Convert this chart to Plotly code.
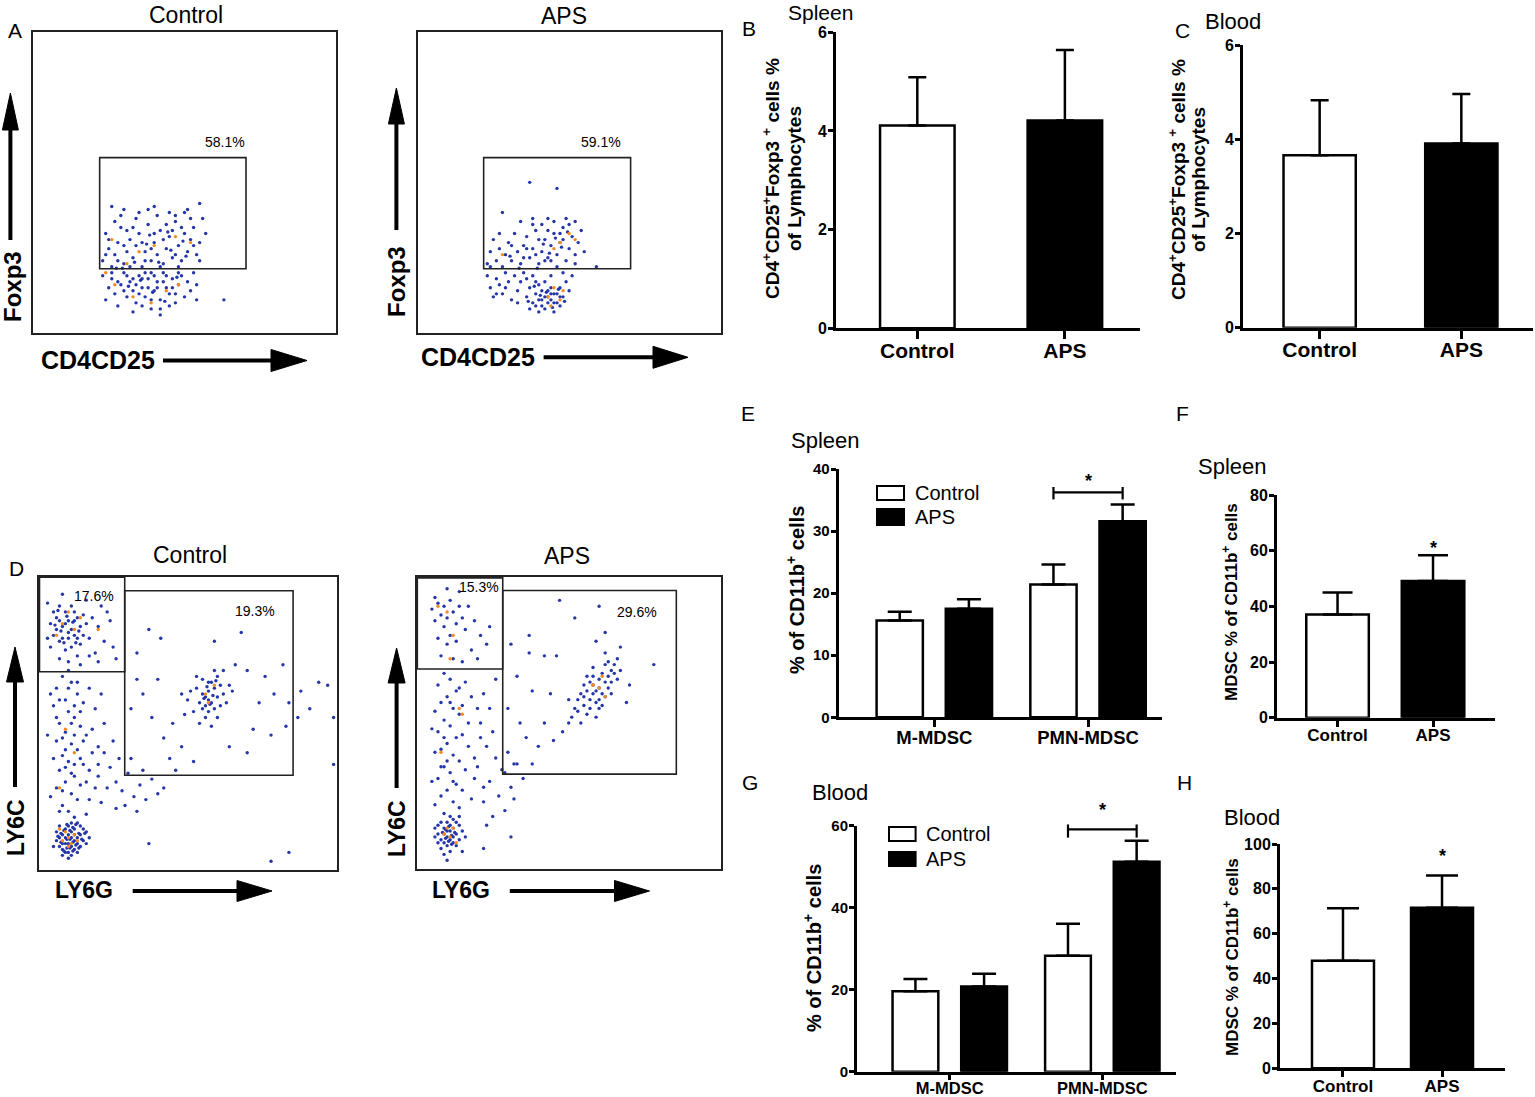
import plotly.graph_objects as go

W, H = 1535, 1097
def PX(px): return px / W
def PY(py): return 1 - py / H

FONT = "Liberation Sans, Arial, sans-serif"

# ================= DATA =================
# Panel B / C : Treg % of lymphocytes (mean, error)
treg_groups = ["Control", "APS"]
spleen_treg_mean = [4.11, 4.21]
spleen_treg_err = [0.98, 1.43]
blood_treg_mean = [3.66, 3.91]
blood_treg_err = [1.17, 1.05]

# Panel E / G : MDSC subsets % of CD11b+ cells
mdsc_subsets = ["M-MDSC", "PMN-MDSC"]
spleen_subset_ctrl = [15.6, 21.4]
spleen_subset_ctrl_err = [1.4, 3.2]
spleen_subset_aps = [17.5, 31.6]
spleen_subset_aps_err = [1.5, 2.7]
blood_subset_ctrl = [19.6, 28.3]
blood_subset_ctrl_err = [3.0, 7.8]
blood_subset_aps = [20.8, 51.2]
blood_subset_aps_err = [3.1, 5.1]

# Panel F / H : total MDSC % of CD11b+ cells
spleen_mdsc_mean = [37.1, 49.1]
spleen_mdsc_err = [7.9, 9.3]
blood_mdsc_mean = [48.0, 71.6]
blood_mdsc_err = [23.3, 14.4]

# Gate percentages
a_ctrl_pct = "58.1%"
a_aps_pct = "59.1%"
d_ctrl_pcts = ["17.6%", "19.3%"]
d_aps_pcts = ["15.3%", "29.6%"]

# Flow events (channel units 0-100)
a_ctrl_events = [
    (23,24),(25,28),(24,33),(26,22),(27,26),(28,30),(29,35),(30,23),(31,27),(32,31),(33,25),(34,29),
    (35,33),(36,22),(37,27),(38,36),(39,24),(40,30),(41,26),(42,34),(43,23),(44,28),(45,32),(46,25),
    (47,37),(48,29),(49,24),(50,33),(51,27),(52,31),(53,35),(54,26),(55,30),(56,38),(29,39),(34,38),
    (41,39),(45,40),(50,40),(38,41),(27,37),(31,34),(36,30),(44,36),(49,35),(53,29),(25,31),(33,35),
    (40,33),(47,26),(52,38),(43,31),(37,24),(30,29),(24,26),(35,40),(42,22),(48,22),(55,24),(57,33),
    (26,42),(30,41),(40,42),(55,43),(47,39),(51,41),(46,34),(39,28),(32,22),(28,24),
    (23,19),(25,15),(24,11),(26,18),(27,13),(28,9),(29,16),(30,20),(31,12),(32,17),(33,14),(34,10),
    (35,19),(36,15),(37,12),(38,18),(39,8),(40,14),(41,17),(42,11),(43,20),(44,15),(45,9),(46,18),
    (47,13),(48,16),(49,19),(50,12),(51,17),(52,14),(53,20),(54,16),(26,20),(28,17),(31,19),(34,16),
    (37,20),(40,19),(43,17),(45,13),(39,11),(36,9),(33,7),(42,8),(47,10),(30,14),(35,13),(41,15),
    (44,19),(48,20),(63,11),(54,11),(42,6),(38,15),(36,18),(33,18),(46,15),(39,20),
    (29.5,21.5),(33.5,23.5),(37.5,29.5),(41.5,23.5),(45.5,27.5),(49.5,30.5),(35.5,17.5),(39.5,13.5),
    (43.5,10.5),(31.5,15.5),(27.5,21.5),(47.5,18.5),(44.5,33.5),(38.5,32.5),(50.5,25.5),
]
a_ctrl_events_hi = [(24,20),(27,16),(31,23),(35,27),(40,29),(47,32),(44,14),(48,16),(33,12),(39,10),(26,31),(52,30)]

a_aps_events = [
    (23,23),(24,27),(25,31),(26,24),(27,28),(28,22),(29,26),(30,30),(31,24),(32,33),(33,27),(34,23),
    (35,29),(36,32),(37,25),(38,28),(39,34),(40,23),(41,27),(42,31),(43,25),(44,29),(45,33),(46,26),
    (47,30),(48,35),(49,24),(50,28),(51,32),(52,26),(53,30),(54,34),(55,27),(40,31),(43,34),(46,22),
    (48,31),(50,36),(45,37),(38,36),(35,25),(31,29),(27,33),(24,22),(42,24),(52,23),(47,33),(44,24),
    (39,26),(36,28),(37,50),(46,48),(28,40),(38,38),(43,38),(34,37),(52,37),(59,22),(41,36),(49,38),
    (23,19),(24,15),(25,12),(26,18),(27,16),(28,13),(29,20),(30,17),(31,11),(32,19),(33,14),(34,17),
    (35,20),(36,12),(37,15),(38,10),(39,13),(40,16),(41,9),(42,12),(43,14),(44,11),(45,13),(46,10),
    (47,15),(48,12),(49,17),(50,14),(51,19),(38,19),(40,11),(42,8),(44,15),(46,13),(41,14),(43,10),
    (39,17),(45,7),(47,9),(36,18),(26,13),(29,15),(33,10),(40,7),(44,19),(48,20),(37,8),(42,17),
    (45,10),(43,12),(41,11),(39,9),(47,12),(44,13),
    (41.5,29.5),(45.5,31.5),(49.5,33.5),(43.5,26.5),(47.5,28.5),(39.5,21.5),(33.5,21.5),(30.5,25.5),
    (42.5,13.5),(44.5,8.5),(46.5,14.5),(40.5,12.5),(38.5,15.5),(48.5,10.5),(36.5,10.5),
]
a_aps_events_hi = [(47,30),(50,33),(45,28),(43,12),(47,11),(48,14),(45,15),(28,26),(52,31),(44,9)]

d_ctrl_events = [
    (4,84),(5,80),(6,86),(7,78),(8,83),(9,88),(10,81),(11,76),(12,85),(13,79),(14,83),(15,87),(6,82),
    (8,79),(10,85),(12,80),(14,77),(16,84),(5,88),(9,75),(11,90),(13,73),(7,72),(15,80),(17,79),(18,86),
    (20,83),(22,78),(24,85),(19,74),(21,90),(25,76),(3,91),(8,94),(16,92),(23,88),(26,72),(10,71),(4,76),
    (12,88),(7,90),(17,73),(14,70),(3,79),(20,71),(9,84),(11,82),(13,86),(7,85),(10,79),
    (5.5,83.5),(7.5,81.5),(9.5,86.5),(11.5,84.5),(13.5,81.5),(8.5,77.5),(12.5,77.5),(6.5,88.5),
    (8,66),(11,64),(6,62),(13,60),(9,58),(15,57),(5,56),(10,54),(12,52),(7,50),(14,49),(9,47),(16,46),
    (6,44),(11,43),(13,41),(8,39),(10,37),(15,36),(7,34),(12,32),(9,30),(14,29),(6,28),(11,26),(13,24),
    (8,22),(10,20),(16,19),(12,18),(4,60),(17,62),(19,55),(18,48),(20,42),(5,38),(17,34),(19,28),(4,25),
    (21,23),(7,58),(12,46),(9,41),(14,38),(11,33),(8,27),(13,64),(10,68),(6,52),(15,44),(18,40),(16,30),
    (20,36),(3,46),(22,50),(21,60),(12,56),(9,35),(7,20),(17,24),(10,62),(8,45),(12,36),(11,50),(14,54),
    (22,40),(24,35),(26,30),(28,27),(30,33),(32,25),(25,44),(27,38),(29,22),(34,29),(36,24),(23,28),
    (31,38),(38,31),(40,26),(33,20),(20,32),(35,34),(26,21),(42,28),
    (6,10),(7,8),(8,12),(9,6),(10,9),(11,13),(12,7),(13,11),(14,8),(15,14),(7,15),(9,14),(11,5),(13,16),
    (8,5),(10,12),(12,10),(14,12),(6,13),(16,9),(9,9),(11,8),(8,9),(12,14),(10,6),(13,6),(7,11),(15,10),
    (10,15),(11,11),(9,11),(12,12),(8,7),(14,15),(16,13),(5,8),(10,4),(13,9),(11,16),(17,11),
    (6.5,11.5),(7.5,9.5),(8.5,13.5),(9.5,7.5),(10.5,10.5),(11.5,14.5),(12.5,8.5),(13.5,12.5),(14.5,10.5),
    (8.5,6.5),(9.5,15.5),(11.5,6.5),(12.5,15.5),(10.5,13.5),(7.5,12.5),(13.5,7.5),(15.5,12.5),(9.5,10.5),
    (11.5,9.5),(10.5,7.5),
    (55,60),(57,58),(59,62),(56,56),(58,64),(60,59),(54,57),(57,61),(59,55),(61,63),(53,62),(56,52),
    (58,57),(62,60),(55,65),(60,66),(52,54),(57,54),(63,57),(54,50),(59,68),(50,58),(58,49),(64,63),
    (51,61),(56,59),(61,56),(53,66),(49,53),(62,68),(57,64),(55,55),(60,52),(48,60),(65,61),
    (56.5,62.5),(58.5,59.5),(57.5,56.5),(55.5,58.5),(59.5,64.5),
    (33,74),(37,82),(41,79),(59,78),(68,81),(66,70),(70,68),(76,66),(82,70),(79,60),(84,57),(74,57),
    (72,48),(78,46),(83,49),(87,52),(45,50),(42,45),(38,52),(44,38),(48,42),(52,37),(46,34),(35,60),
    (40,65),(31,55),(88,61),(94,64),(97,63),(91,55),(99,52),(99,36),(37,9),(84,6),(78,3),(33,65),
    (64,42),(70,40),
]
d_ctrl_events_hi = [(8,84),(10,88),(6,80),(12,82),(14,86),(20,82),(9,48),(12,40),(7,28),(8,10),(10,8),
                    (12,12),(9,13),(11,9),(7,14),(13,10),(10,11),(56,60),(59,63),(57,57)]

d_aps_events = [
    (5,89),(7,91),(8,87),(9,90),(10,86),(11,92),(12,88),(13,84),(14,90),(6,85),(9,83),(11,80),(13,78),
    (15,86),(16,82),(7,79),(10,77),(17,90),(19,85),(21,80),(23,77),(18,75),(8,73),(12,72),(15,71),(20,72),
    (6,93),(14,95),(24,83),(10,96),
    (9,67),(11,65),(7,63),(13,61),(10,59),(8,57),(12,55),(14,53),(9,51),(11,49),(7,47),(13,45),(10,43),
    (8,41),(12,39),(14,37),(9,35),(11,33),(7,31),(13,29),(10,27),(8,25),(12,23),(14,21),(9,19),(16,64),
    (18,59),(6,54),(17,50),(15,46),(6,40),(17,42),(16,34),(5,30),(15,27),(19,31),(18,24),(6,22),(11,57),
    (9,45),(12,30),(10,37),(14,62),(20,55),(21,45),(19,38),(22,28),(5,48),(15,56),(8,35),
    (7,12),(8,10),(9,14),(10,11),(11,13),(12,9),(13,12),(14,15),(8,16),(10,8),(12,14),(9,12),(11,10),
    (13,16),(6,14),(10,13),(11,6),(12,11),(9,9),(14,10),(7,15),(10,16),(13,8),(15,13),(8,7),(11,15),
    (12,17),(9,5),(16,11),(10,3),(7,9),(11,18),(14,18),(15,6),(6,11),
    (8.5,12.5),(9.5,10.5),(10.5,14.5),(11.5,11.5),(12.5,12.5),(10.5,9.5),(9.5,13.5),(11.5,8.5),
    (22,60),(24,55),(21,50),(25,47),(23,42),(26,38),(20,35),(24,30),(27,25),(22,23),(29,20),(26,65),
    (31,28),(28,34),(30,40),(33,36),(35,31),(32,24),(25,18),(23,15),
    (60,62),(58,60),(62,64),(57,58),(61,60),(63,66),(59,57),(64,68),(56,61),(60,65),(62,59),(55,56),
    (58,63),(65,70),(53,58),(57,55),(61,67),(63,62),(52,55),(59,61),(66,72),(54,60),(60,55),(64,64),
    (56,53),(58,66),(62,70),(51,52),(55,63),(65,67),(61,56),(53,54),(57,64),(63,71),(60,58),(50,58),
    (59,52),(66,65),(62,74),(54,50),(56,66),(64,60),(58,69),(67,68),(55,59),
    (47,92),(60,90),(52,86),(62,81),(59,78),(67,76),(78,70),(69,57),(37,80),(31,77),(37,74),(42,73),
    (46,73),(33,66),(38,61),(44,60),(42,50),(50,50),(31,11),(22,7),(36,45),(40,42),(34,50),(30,55),
    (45,44),(48,47),(32,36),(29,33),(38,36),(70,63),
]
d_aps_events_hi = [(7,90),(10,88),(12,80),(11,72),(14,55),(8,40),(15,53),(9,12),(11,11),(12,14),(10,14),
                   (13,9),(60,62),(58,63),(62,59),(61,66)]

# ================= LAYOUT HELPERS =================
BLUE = "#2536a8"
ORANGE = "#f58a1f"

fig = go.Figure()
layout = dict(width=W, height=H, margin=dict(l=0, r=0, t=0, b=0, pad=0, autoexpand=False),
              paper_bgcolor="white", plot_bgcolor="rgba(0,0,0,0)", showlegend=False,
              barmode="overlay", autosize=False)
shapes = []
annotations = []

def axkey(i, letter):
    return f"{letter}axis" if i == 1 else f"{letter}axis{i}"

def ref(i, letter):
    return letter if i == 1 else f"{letter}{i}"

def text(px, py, s, size, bold=False, angle=0, xanchor="center", yanchor="middle", color="black"):
    annotations.append(dict(x=PX(px), y=PY(py), xref="paper", yref="paper", text=s, showarrow=False,
                            textangle=angle, xanchor=xanchor, yanchor=yanchor,
                            font=dict(family=FONT, size=size, color=color,
                                      weight="bold" if bold else "normal")))

def arrow(x0, y0, x1, y1, head_len, head_w, lw=4):
    # pixel coords: tail (x0,y0) -> tip (x1,y1)
    dx, dy = x1 - x0, y1 - y0
    L = (dx * dx + dy * dy) ** 0.5
    ux, uy = dx / L, dy / L
    bx, by = x1 - ux * head_len, y1 - uy * head_len
    shapes.append(dict(type="line", xref="paper", yref="paper", x0=PX(x0), y0=PY(y0),
                       x1=PX(bx + ux * 2), y1=PY(by + uy * 2), line=dict(color="black", width=lw)))
    nx, ny = -uy, ux
    p1 = (bx + nx * head_w / 2, by + ny * head_w / 2)
    p2 = (bx - nx * head_w / 2, by - ny * head_w / 2)
    path = (f"M {PX(x1)} {PY(y1)} L {PX(p1[0])} {PY(p1[1])} L {PX(p2[0])} {PY(p2[1])} Z")
    shapes.append(dict(type="path", xref="paper", yref="paper", path=path,
                       fillcolor="black", line=dict(color="black", width=1)))

# ================= FLOW PLOTS =================
flow_boxes = {
    1: (33, 31.7, 336, 333),
    2: (417.6, 31.7, 720.6, 333),
    3: (38.6, 576.7, 336.6, 870),
    4: (416.7, 577, 720.7, 869),
}
flow_data = {1: (a_ctrl_events, a_ctrl_events_hi), 2: (a_aps_events, a_aps_events_hi),
             3: (d_ctrl_events, d_ctrl_events_hi), 4: (d_aps_events, d_aps_events_hi)}
flow_gates = {
    1: [(22.0, 21.3, 70.3, 58.2)],
    2: [(21.8, 21.3, 70.3, 58.2)],
    3: [(0.3, 67.6, 28.9, 99.8), (28.9, 32.3, 85.4, 95.2)],
    4: [(0.2, 68.5, 28.3, 99.7), (28.3, 32.5, 85.4, 95.4)],
}
flow_labels = {
    1: [(63.4, 63.5, a_ctrl_pct)],
    2: [(60.4, 63.3, a_aps_pct)],
    3: [(18.5, 93.5, d_ctrl_pcts[0]), (72.5, 88.3, d_ctrl_pcts[1])],
    4: [(20.5, 96.5, d_aps_pcts[0]), (72.6, 88.1, d_aps_pcts[1])],
}

for i, (l, t, r, b) in flow_boxes.items():
    ev, hi = flow_data[i]
    for pts, col in ((ev, BLUE), (hi, ORANGE)):
        fig.add_trace(go.Scatter(x=[p[0] for p in pts], y=[p[1] for p in pts], mode="markers",
                                 marker=dict(size=3.4, color=col, line=dict(width=0)),
                                 xaxis=ref(i, "x"), yaxis=ref(i, "y"), hoverinfo="skip"))
    common = dict(range=[0, 100], showline=True, mirror=True, linecolor="#222", linewidth=2,
                  showgrid=False, zeroline=False, showticklabels=False, ticks="", fixedrange=True,
                  automargin=False)
    layout[axkey(i, "x")] = dict(domain=[PX(l), PX(r)], anchor=ref(i, "y"), **common)
    layout[axkey(i, "y")] = dict(domain=[PY(b), PY(t)], anchor=ref(i, "x"), **common)
    for (gx0, gy0, gx1, gy1) in flow_gates[i]:
        shapes.append(dict(type="rect", xref=ref(i, "x"), yref=ref(i, "y"), x0=gx0, y0=gy0, x1=gx1, y1=gy1,
                           line=dict(color="#222", width=1.6), fillcolor="rgba(0,0,0,0)"))
    for (lx, ly, s) in flow_labels[i]:
        annotations.append(dict(x=lx, y=ly, xref=ref(i, "x"), yref=ref(i, "y"), text=s, showarrow=False,
                                font=dict(family=FONT, size=14, color="black")))

# flow titles and axis labels
text(186, 15, "Control", 23)
text(564, 16, "APS", 23)
text(190, 555, "Control", 23)
text(567, 556, "APS", 23)

text(12, 287, "Foxp3", 24, bold=True, angle=-90)
text(397, 282, "Foxp3", 24, bold=True, angle=-90)
text(98, 360, "CD4CD25", 25, bold=True)
text(478, 357, "CD4CD25", 25, bold=True)
arrow(10.4, 240, 10.4, 93, 37, 16)
arrow(396.4, 230, 396.4, 88, 36, 16)
arrow(163, 360.5, 307, 360.5, 36, 22)
arrow(543.6, 357.3, 688, 357.3, 35, 22)

text(16, 828, "LY6C", 23, bold=True, angle=-90)
text(397, 829, "LY6C", 23, bold=True, angle=-90)
text(84, 890, "LY6G", 23, bold=True)
text(461, 890, "LY6G", 23, bold=True)
arrow(15, 787, 15, 647, 35, 17)
arrow(396.6, 788, 396.6, 648, 35, 17)
arrow(132.7, 891, 272, 891, 35, 21)
arrow(509.8, 891, 649.5, 891, 35, 21)

# ================= BAR CHARTS =================
bar_boxes = {}

def bar_axes(i, box, xr, cats, yr, dtick, xfont, yfont, xticklen, xstand):
    l, t, r, b = box
    bar_boxes[i] = (box, yr)
    layout[axkey(i, "x")] = dict(domain=[PX(l), PX(r)], anchor=ref(i, "y"), range=xr,
                                 tickvals=list(range(len(cats))), ticktext=cats, showline=True,
                                 linecolor="black", linewidth=3, ticks="outside", ticklen=xticklen,
                                 tickwidth=2.5, tickcolor="black", showgrid=False, zeroline=False,
                                 fixedrange=True, automargin=False, ticklabelstandoff=xstand,
                                 tickfont=dict(family=FONT, size=xfont, color="black", weight="bold"))
    layout[axkey(i, "y")] = dict(domain=[PY(b), PY(t)], anchor=ref(i, "x"), range=yr, dtick=dtick,
                                 tick0=0, showline=True, linecolor="black", linewidth=3, ticks="outside",
                                 ticklen=5, tickwidth=2.5, tickcolor="black", showgrid=False,
                                 zeroline=False, fixedrange=True, automargin=False, ticklabelstandoff=-2,
                                 tickfont=dict(family=FONT, size=yfont, color="black", weight="bold"))

def bars(i, xs, ys, errs, colors, width, capw):
    fig.add_trace(go.Bar(x=xs, y=ys, width=width,
                         marker=dict(color=colors, line=dict(color="black", width=2.5)),
                         error_y=dict(type="data", array=errs, arrayminus=[0] * len(errs), symmetric=False,
                                      color="black", thickness=2.5, width=capw),
                         xaxis=ref(i, "x"), yaxis=ref(i, "y"), hoverinfo="skip"))

def value_to_paper(i, v):
    (l, t, r, b), (y0, y1) = bar_boxes[i]
    return PY(b - (v - y0) / (y1 - y0) * (b - t))

# B
bar_axes(5, (836, 32.3, 1140, 328.3), [-0.551, 1.509], treg_groups, [0, 6], 2, 21, 16, 8, -7)
bars(5, [0, 1], spleen_treg_mean, spleen_treg_err, ["white", "black"], 0.505, 9)
# C
bar_axes(6, (1243, 45, 1532.6, 327.7), [-0.541, 1.503], treg_groups, [0, 6], 2, 21, 16, 8, -7)
bars(6, [0, 1], blood_treg_mean, blood_treg_err, ["white", "black"], 0.51, 9)

GROUP_OFF = 0.225
# E
bar_axes(7, (838.7, 469, 1162, 717.3), [-0.622, 1.481], mdsc_subsets, [0, 40], 10, 18.5, 15, 7, -6)
bars(7, [k - GROUP_OFF for k in range(2)], spleen_subset_ctrl, spleen_subset_ctrl_err, "white", 0.301, 12)
bars(7, [k + GROUP_OFF for k in range(2)], spleen_subset_aps, spleen_subset_aps_err, "black", 0.301, 12)
# F
bar_axes(8, (1277, 495, 1495, 717.7), [-0.634, 1.649], treg_groups, [0, 80], 20, 17, 16, 6, -6)
bars(8, [0, 1], spleen_mdsc_mean, spleen_mdsc_err, ["white", "black"], 0.655, 15)
# G
bar_axes(9, (857, 825.7, 1176, 1071.7), [-0.608, 1.483], mdsc_subsets, [0, 60], 20, 16.5, 15, 5, -6)
bars(9, [k - GROUP_OFF for k in range(2)], blood_subset_ctrl, blood_subset_ctrl_err, "white", 0.30, 12)
bars(9, [k + GROUP_OFF for k in range(2)], blood_subset_aps, blood_subset_aps_err, "black", 0.30, 12)
# H
bar_axes(10, (1280, 844, 1505, 1068.3), [-0.636, 1.636], treg_groups, [0, 100], 20, 17, 16, 6, -6)
bars(10, [0, 1], blood_mdsc_mean, blood_mdsc_err, ["white", "black"], 0.626, 16)

# significance marks
def star(i, x, v):
    annotations.append(dict(x=x, y=value_to_paper(i, v), xref=ref(i, "x"), yref="paper", text="*",
                            showarrow=False, font=dict(family=FONT, size=18, color="black", weight="bold")))

def bracket(i, v, tick_lo, tick_hi, star_v):
    x0, x1 = 1 - GROUP_OFF, 1 + GROUP_OFF
    for sh in ((x0, v, x1, v), (x0, tick_lo, x0, tick_hi), (x1, tick_lo, x1, tick_hi)):
        shapes.append(dict(type="line", xref=ref(i, "x"), yref="paper", x0=sh[0], y0=value_to_paper(i, sh[1]),
                           x1=sh[2], y1=value_to_paper(i, sh[3]), line=dict(color="black", width=2.2)))
    star(i, 1, star_v)

bracket(7, 36.25, 35.1, 37.1, 38.0)
bracket(9, 59.1, 57.1, 60.3, 60.9)
star(8, 1, 61.0)
star(10, 1, 89.5)

# legends for E and G
def legend_box(x0, y0, x1, y1, fill):
    shapes.append(dict(type="rect", xref="paper", yref="paper", x0=PX(x0), y0=PY(y1), x1=PX(x1), y1=PY(y0),
                       line=dict(color="black", width=2), fillcolor=fill))

legend_box(877, 486, 904, 500, "white")
legend_box(877, 509, 904, 525, "black")
text(913, 493, "Control", 20, xanchor="left")
text(913, 517, "APS", 20, xanchor="left")
legend_box(889, 827, 915.6, 841, "white")
legend_box(889, 852, 915.6, 866, "black")
text(924, 834, "Control", 20, xanchor="left")
text(924, 859, "APS", 20, xanchor="left")

# y-axis titles
text(771, 179, "CD4<sup>+</sup>CD25<sup>+</sup>Foxp3 <sup>+</sup> cells %", 19, bold=True, angle=-90)
text(794, 179, "of Lymphocytes", 19, bold=True, angle=-90)
text(1177, 180, "CD4<sup>+</sup>CD25<sup>+</sup>Foxp3 <sup>+</sup> cells %", 19, bold=True, angle=-90)
text(1199, 180, "of Lymphocytes", 19, bold=True, angle=-90)
text(795, 590, "% of CD11b<sup>+</sup> cells", 20, bold=True, angle=-90)
text(1230, 602, "MDSC % of CD11b<sup>+</sup> cells", 17, bold=True, angle=-90)
text(812, 948, "% of CD11b<sup>+</sup> cells", 20, bold=True, angle=-90)
text(1231, 957, "MDSC % of CD11b<sup>+</sup> cells", 17, bold=True, angle=-90)

# panel titles
text(820, 12, "Spleen", 21)
text(1233, 22, "Blood", 22)
text(825, 440, "Spleen", 22)
text(1232, 467, "Spleen", 22)
text(840, 792, "Blood", 22)
text(1252, 817, "Blood", 22)

# panel letters
for (lx, ly, s) in [(15, 31, "A"), (749, 29, "B"), (1182, 31, "C"), (16, 568, "D"),
                    (748, 413, "E"), (1182, 413, "F"), (750, 782, "G"), (1184, 782, "H")]:
    text(lx, ly, s, 21)

layout["shapes"] = shapes
layout["annotations"] = annotations
fig.update_layout(**layout)
fig.write_html(
    "out.html",
    config={"displayModeBar": False, "responsive": False},
    post_script=("document.documentElement.style.margin='0';document.body.style.margin='0';"
                 "document.body.style.padding='0';document.body.style.overflow='hidden';"),
)
